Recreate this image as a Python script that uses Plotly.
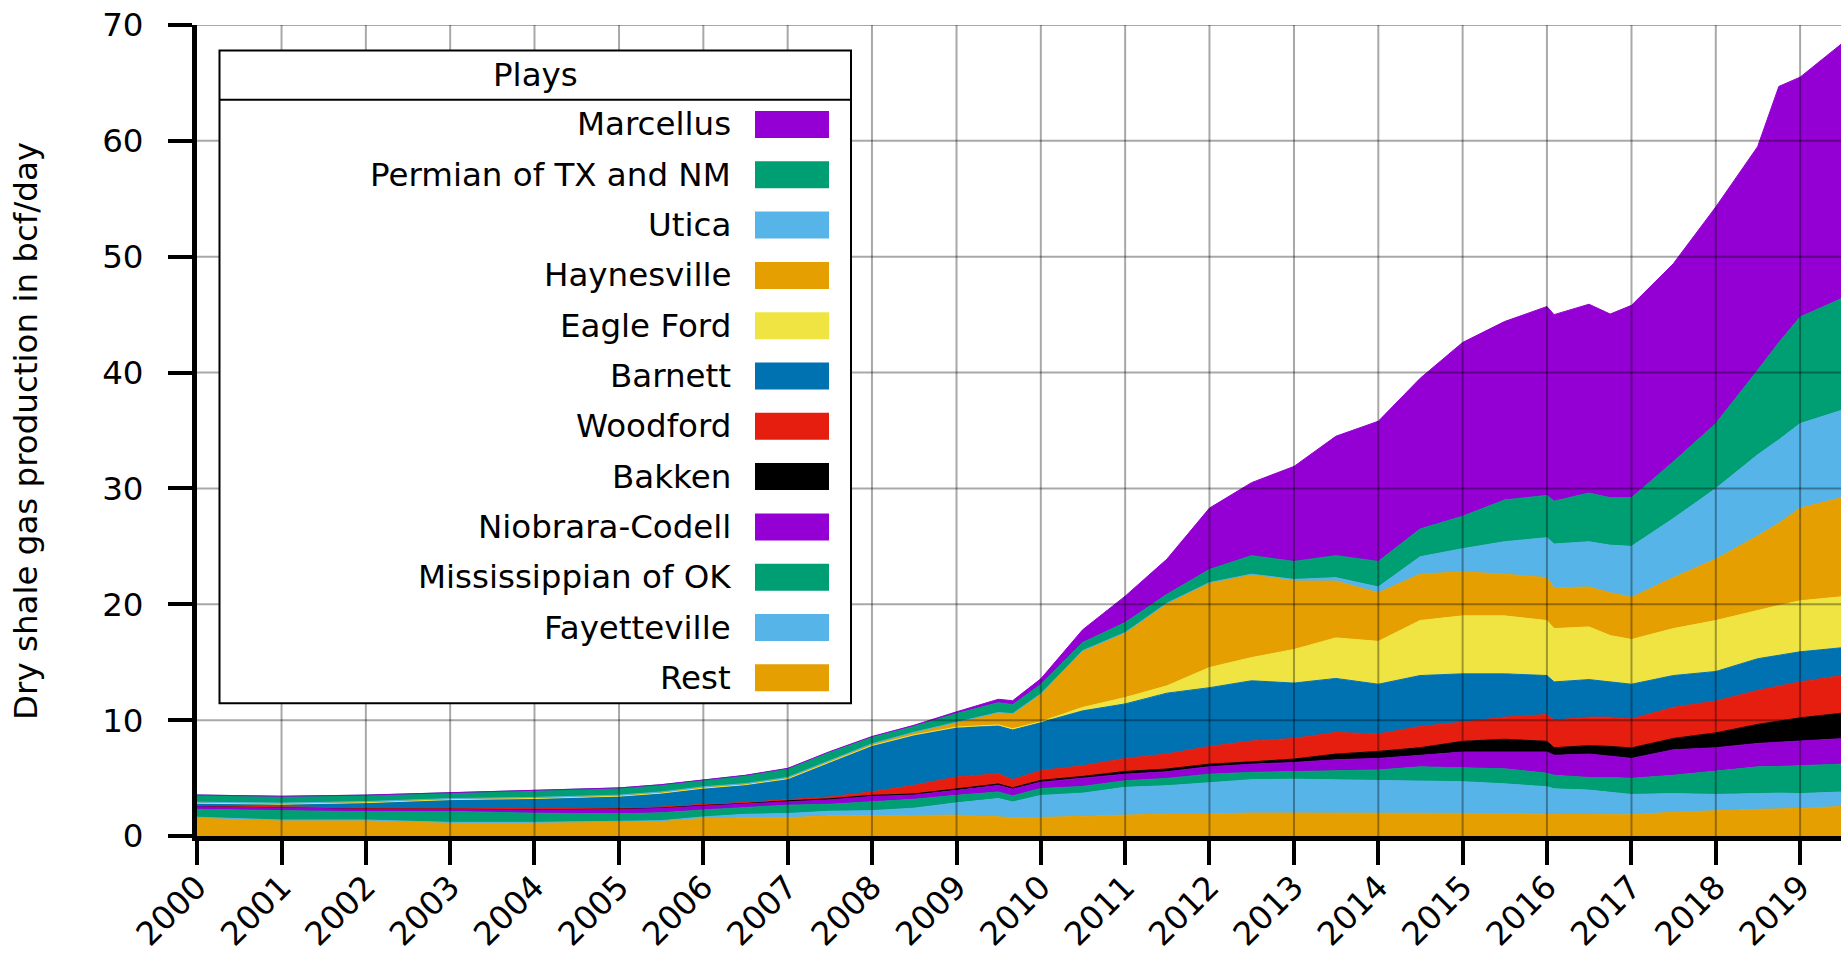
import plotly.graph_objects as go

# Monthly sample points (first of month) for the stacked shale-gas plays
dates = [
    "2000-01-01", "2001-01-01", "2002-01-01", "2003-01-01", "2004-01-01",
    "2005-01-01", "2005-07-01", "2006-01-01", "2006-07-01", "2007-01-01",
    "2007-07-01", "2008-01-01", "2008-07-01", "2009-01-01", "2009-07-01",
    "2009-09-01", "2010-01-01", "2010-07-01", "2011-01-01", "2011-07-01",
    "2012-01-01", "2012-07-01", "2013-01-01", "2013-07-01", "2014-01-01",
    "2014-07-01", "2015-01-01", "2015-07-01", "2016-01-01", "2016-02-01",
    "2016-07-01", "2016-10-01", "2017-01-01", "2017-07-01", "2018-01-01",
    "2018-07-01", "2018-10-01", "2019-01-01", "2019-07-01",
]

# Dry shale gas production by play, bcf/day (stack order: bottom to top)
rest = [1.62, 1.38, 1.38, 1.18, 1.18, 1.26, 1.30, 1.50, 1.57, 1.57,
        1.74, 1.74, 1.80, 1.80, 1.66, 1.57, 1.60, 1.70, 1.75, 1.90,
        1.90, 1.98, 1.98, 1.98, 1.95, 1.94, 1.94, 1.94, 1.87, 1.87,
        1.87, 1.87, 1.83, 2.05, 2.20, 2.30, 2.34, 2.38, 2.55]
fayetteville = [0, 0, 0, 0, 0, 0, 0.02, 0.15, 0.30, 0.37,
                0.40, 0.45, 0.60, 1.06, 1.57, 1.37, 1.90, 2.00, 2.45, 2.44,
                2.73, 2.88, 2.92, 2.88, 2.85, 2.82, 2.75, 2.56, 2.38, 2.20,
                2.09, 1.90, 1.76, 1.61, 1.39, 1.36, 1.36, 1.28, 1.25]
mississippian = [0.68, 0.82, 0.71, 0.94, 0.79, 0.65, 0.68, 0.60, 0.56, 0.72,
                 0.60, 0.75, 0.77, 0.65, 0.57, 0.52, 0.60, 0.58, 0.57, 0.63,
                 0.71, 0.63, 0.65, 0.77, 0.90, 1.21, 1.17, 1.30, 1.17, 1.17,
                 1.09, 1.28, 1.39, 1.58, 2.01, 2.31, 2.30, 2.42, 2.40]
niobrara = [0.30, 0.26, 0.29, 0.24, 0.35, 0.44, 0.44, 0.40, 0.37, 0.34,
            0.43, 0.52, 0.40, 0.43, 0.57, 0.60, 0.55, 0.69, 0.57, 0.58,
            0.64, 0.71, 0.80, 0.95, 1.00, 0.99, 1.39, 1.45, 1.83, 1.72,
            2.02, 1.84, 1.72, 2.20, 2.02, 2.02, 2.10, 2.09, 2.20]
bakken = [0.02, 0.02, 0.02, 0.02, 0.02, 0.03, 0.03, 0.03, 0.03, 0.04,
          0.04, 0.05, 0.06, 0.10, 0.12, 0.10, 0.15, 0.17, 0.23, 0.23,
          0.22, 0.20, 0.29, 0.49, 0.60, 0.66, 0.92, 1.10, 0.92, 0.66,
          0.73, 0.84, 0.90, 0.98, 1.28, 1.64, 1.80, 2.03, 2.20]
woodford = [0.01, 0.01, 0.01, 0.02, 0.02, 0.03, 0.03, 0.05, 0.06, 0.10,
            0.16, 0.30, 0.74, 1.05, 0.88, 0.70, 0.85, 0.92, 1.13, 1.29,
            1.53, 1.80, 1.78, 1.87, 1.50, 1.83, 1.65, 1.91, 2.31, 2.38,
            2.46, 2.53, 2.50, 2.68, 2.75, 2.93, 3.00, 3.10, 3.25]
barnett = [0.20, 0.26, 0.47, 0.74, 0.88, 1.03, 1.20, 1.40, 1.54, 1.80,
           3.00, 4.00, 4.34, 4.28, 4.14, 4.30, 4.15, 4.74, 4.70, 5.26,
           5.07, 5.20, 4.78, 4.66, 4.30, 4.40, 4.18, 3.74, 3.37, 3.30,
           3.24, 3.04, 3.00, 2.75, 2.55, 2.74, 2.70, 2.60, 2.40]
eagle_ford = [0, 0, 0, 0, 0, 0, 0, 0, 0, 0,
              0, 0, 0.02, 0.03, 0.08, 0.10, 0.07, 0.30, 0.55, 0.63,
              1.74, 2.00, 2.90, 3.50, 3.70, 4.75, 5.00, 5.00, 4.75, 4.60,
              4.55, 4.00, 3.86, 4.05, 4.40, 4.20, 4.30, 4.40, 4.40]
haynesville = [0.09, 0.09, 0.09, 0.09, 0.09, 0.09, 0.10, 0.12, 0.09, 0.12,
               0.13, 0.15, 0.23, 0.43, 1.07, 1.30, 2.40, 4.90, 5.61, 7.14,
               7.33, 7.20, 5.90, 4.90, 4.20, 4.00, 3.80, 3.60, 3.70, 3.50,
               3.45, 3.70, 3.64, 4.40, 5.30, 6.40, 7.10, 8.00, 8.55]
utica = [0, 0, 0, 0, 0, 0, 0, 0, 0, 0,
         0, 0, 0, 0, 0, 0, 0, 0, 0, 0,
         0, 0, 0.15, 0.30, 0.50, 1.50, 2.00, 2.80, 3.45, 3.80,
         3.90, 4.10, 4.40, 5.10, 6.10, 7.00, 7.20, 7.30, 7.55]
permian = [0.62, 0.59, 0.56, 0.50, 0.59, 0.62, 0.62, 0.58, 0.70, 0.74,
           0.73, 0.57, 0.50, 0.74, 0.84, 0.77, 0.80, 0.70, 0.86, 0.76,
           1.13, 1.60, 1.55, 1.90, 2.20, 2.40, 2.80, 3.60, 3.65, 3.70,
           4.20, 4.10, 4.20, 4.90, 5.60, 7.30, 8.40, 9.20, 9.65]
marcellus = [0, 0, 0, 0, 0, 0, 0.01, 0.02, 0.02, 0.04,
             0.05, 0.06, 0.10, 0.15, 0.30, 0.35, 0.50, 1.10, 2.28, 3.04,
             5.30, 6.30, 8.20, 10.30, 12.10, 13.00, 15.00, 15.40, 16.30, 16.10,
             16.30, 15.85, 16.60, 17.10, 18.70, 19.30, 22.10, 20.70, 22.00]

plays = ["Rest", "Fayetteville", "Mississippian of OK", "Niobrara-Codell",
         "Bakken", "Woodford", "Barnett", "Eagle Ford", "Haynesville",
         "Utica", "Permian of TX and NM", "Marcellus"]
series = [rest, fayetteville, mississippian, niobrara, bakken, woodford,
          barnett, eagle_ford, haynesville, utica, permian, marcellus]
colors = ["#E69F00", "#56B4E9", "#009E73", "#9400D3", "#000000", "#E51E10",
          "#0072B2", "#F0E442", "#E69F00", "#56B4E9", "#009E73", "#9400D3"]

years = list(range(2000, 2020))
y_ticks = list(range(0, 71, 10))

W, H = 1841, 953
ML, MR, MT, MB = 197, 0, 25, 117
PW, PH = W - ML - MR, H - MT - MB
FONT = "DejaVu Sans"
FS = 32.5


def px(x):
    return (x - ML) / PW


def py(y):
    return (H - MB - y) / PH


fig = go.Figure()
for name, vals, col in zip(plays, series, colors):
    fig.add_trace(go.Scatter(
        x=dates, y=vals, name=name, mode="lines", stackgroup="plays",
        line=dict(width=1, color=col), fillcolor=col, showlegend=False,
    ))

shapes = []
grid_col = "rgba(0,0,0,0.34)"
for yr in years[1:]:
    shapes.append(dict(type="line", xref="x", yref="y",
                       x0=f"{yr}-01-01", x1=f"{yr}-01-01", y0=0, y1=70,
                       line=dict(color=grid_col, width=2), layer="above"))
for v in y_ticks[1:]:
    shapes.append(dict(type="line", xref="paper", yref="y",
                       x0=0, x1=1, y0=v, y1=v,
                       line=dict(color=grid_col, width=2), layer="above"))

# Legend panel with a header row
box_l, box_r, box_t, box_b = 219.5, 851, 50.5, 703.3
shapes.append(dict(type="rect", xref="paper", yref="paper",
                   x0=px(box_l), x1=px(box_r), y0=py(box_b), y1=py(box_t),
                   fillcolor="white", line=dict(color="black", width=2),
                   layer="above"))
shapes.append(dict(type="line", xref="paper", yref="paper",
                   x0=px(box_l), x1=px(box_r), y0=py(99.8), y1=py(99.8),
                   line=dict(color="black", width=2), layer="above"))

annotations = [dict(text="Plays", xref="paper", yref="paper",
                    x=px((box_l + box_r) / 2), y=py(75),
                    xanchor="center", yanchor="middle", showarrow=False,
                    font=dict(family=FONT, size=FS, color="black"))]

for i, (name, col) in enumerate(zip(plays[::-1], colors[::-1])):
    cy = 124.5 + 50.3 * i
    annotations.append(dict(text=name, xref="paper", yref="paper",
                            x=px(732.6), y=py(cy), xanchor="right",
                            yanchor="middle", showarrow=False,
                            font=dict(family=FONT, size=FS, color="black")))
    shapes.append(dict(type="rect", xref="paper", yref="paper",
                       x0=px(755), x1=px(829), y0=py(cy + 13.5),
                       y1=py(cy - 13.5), fillcolor=col,
                       line=dict(width=0), layer="above"))

annotations.append(dict(text="Dry shale gas production in bcf/day",
                        xref="paper", yref="paper", x=px(26), y=py(431),
                        xanchor="center", yanchor="middle", textangle=-90,
                        showarrow=False,
                        font=dict(family=FONT, size=FS, color="black")))

fig.update_layout(
    width=W, height=H,
    margin=dict(l=ML, r=MR, t=MT, b=MB, pad=0, autoexpand=False),
    paper_bgcolor="white", plot_bgcolor="white",
    font=dict(family=FONT, size=FS, color="black"),
    shapes=shapes, annotations=annotations,
    xaxis=dict(type="date", range=["2000-01-01", "2019-06-27"],
               tickvals=[f"{y}-01-01" for y in years],
               ticktext=[str(y) for y in years], tickangle=-45,
               showgrid=False, zeroline=False, showline=True, linewidth=5,
               linecolor="black", ticks="outside", ticklen=24, tickwidth=4,
               tickcolor="black", layer="above traces",
               ticklabelstandoff=-10, automargin=False),
    yaxis=dict(range=[0, 70], tickvals=y_ticks,
               showgrid=False, zeroline=False, showline=True, linewidth=5,
               linecolor="black", ticks="outside", ticklen=24, tickwidth=4,
               tickcolor="black", layer="above traces",
               ticklabelstandoff=18, automargin=False),
    hovermode="x",
)

fig.write_html("out.html")
